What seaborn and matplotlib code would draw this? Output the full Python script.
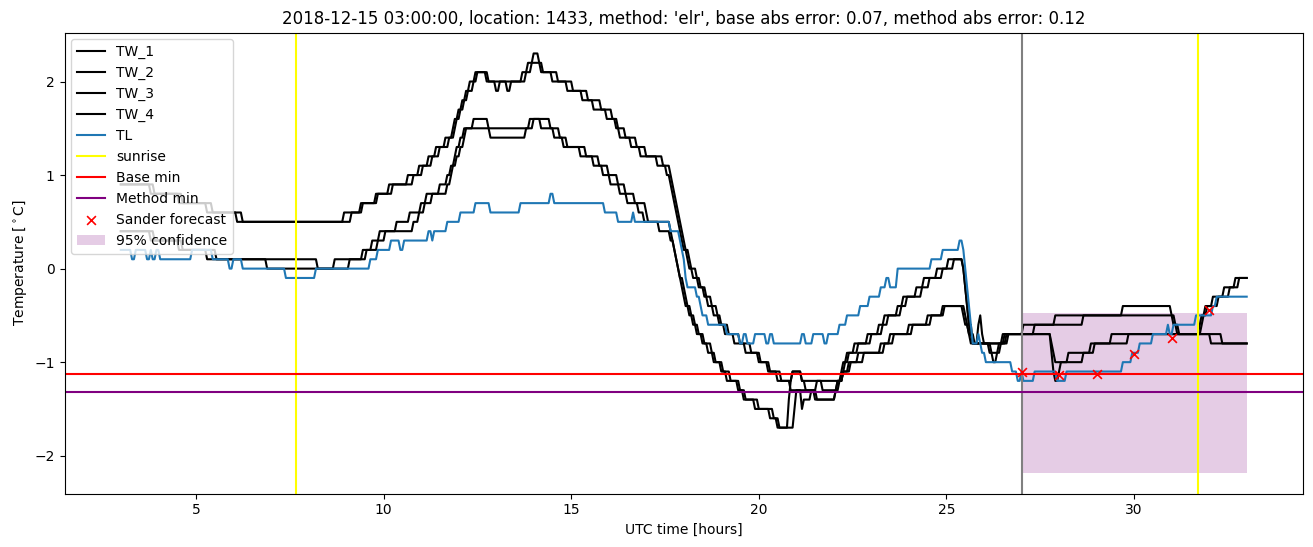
import numpy as np
import matplotlib
matplotlib.use("Agg")
import matplotlib.pyplot as plt
import seaborn as sns

# ---------------- data ----------------
# Each series: times [h UTC] at which the value changes, and the new values.
tw1_t = [3.0, 3.77, 4.52, 5.28, 6.08, 8.95, 9.36, 9.76, 10.11, 10.65, 10.91, 11.18, 11.37, 11.62,
         11.84, 11.89, 11.99, 12.09, 12.19, 12.29, 12.44, 12.74, 12.96, 13.06, 13.69, 13.84, 13.99,
         14.11, 14.22, 14.5, 14.9, 15.28, 15.57, 15.95, 16.16, 16.29, 16.56, 16.83, 17.28, 17.55,
         17.64, 17.69, 17.74, 17.79, 17.82, 17.87, 17.92, 17.99, 18.07, 18.15, 18.25, 18.37, 18.52,
         18.64, 18.79, 18.92, 19.07, 19.34, 19.64, 19.97, 20.22, 20.47, 20.86, 21.11, 22.18, 22.24,
         22.31, 22.53, 22.86, 23.16, 23.33, 23.7, 23.85, 24.2, 24.4, 24.75, 25.05, 25.42, 25.47,
         25.52, 25.57, 25.62, 25.7, 25.85, 25.9, 25.95, 26.0, 26.49, 27.04, 27.89, 29.68, 30.98,
         31.08, 31.18, 32.03]
tw1_v = [0.9, 0.8, 0.7, 0.6, 0.5, 0.6, 0.7, 0.8, 0.9, 1.0, 1.1, 1.2, 1.3, 1.4,
         1.5, 1.6, 1.7, 1.8, 1.9, 2.0, 2.1, 2.0, 1.9, 2.0, 2.1, 2.2, 2.3,
         2.2, 2.1, 2.0, 1.9, 1.8, 1.7, 1.6, 1.5, 1.4, 1.3, 1.2, 1.1, 1.0,
         0.9, 0.8, 0.7, 0.6, 0.5, 0.4, 0.3, 0.2, 0.1, 0.0, -0.1, -0.2, -0.3,
         -0.4, -0.5, -0.6, -0.7, -0.8, -0.9, -1.0, -1.1, -1.2, -1.1, -1.2, -1.1, -1.0,
         -0.9, -0.8, -0.7, -0.6, -0.5, -0.4, -0.3, -0.2, -0.1, 0.0, 0.1, 0.0, -0.2,
         -0.4, -0.6, -0.7, -0.8, -0.6, -0.5, -0.7, -0.8, -0.7, -0.6, -0.5, -0.4, -0.5,
         -0.6, -0.7, -0.8]

tw2_t = [3.0, 3.77, 4.52, 5.28, 6.86, 8.69, 9.42, 9.68, 9.9, 10.35, 10.7, 10.97, 11.15, 11.5,
         11.69, 11.79, 11.87, 11.94, 12.04, 12.14, 12.39, 12.79, 13.89, 14.44, 14.68, 14.9, 15.36,
         15.71, 15.98, 16.21, 16.43, 16.69, 16.96, 17.04, 17.35, 17.64, 17.72, 17.77, 17.82, 17.87,
         17.92, 17.99, 18.04, 18.12, 18.24, 18.34, 18.47, 18.64, 18.77, 18.97, 19.14, 19.42, 19.57,
         19.9, 20.27, 20.46, 20.76, 20.81, 20.86, 21.11, 21.21, 21.51, 22.01, 22.11, 22.21, 22.28,
         22.36, 22.63, 22.96, 23.26, 23.41, 23.8, 23.95, 24.35, 24.55, 24.9, 25.2, 25.44, 25.49,
         25.54, 25.6, 25.7, 26.54, 27.34, 28.61, 31.03, 31.13, 32.33]
tw2_v = [0.4, 0.3, 0.2, 0.1, 0.0, 0.1, 0.2, 0.3, 0.4, 0.5, 0.6, 0.7, 0.8, 0.9,
         1.0, 1.1, 1.2, 1.3, 1.4, 1.5, 1.6, 1.5, 1.6, 1.5, 1.4, 1.3, 1.2,
         1.1, 1.0, 0.9, 0.8, 0.7, 0.6, 0.5, 0.4, 0.3, 0.2, 0.1, 0.0, -0.1,
         -0.2, -0.3, -0.4, -0.5, -0.6, -0.7, -0.8, -0.9, -1.0, -1.1, -1.2, -1.3, -1.4,
         -1.5, -1.6, -1.7, -1.4, -1.2, -1.1, -1.2, -1.3, -1.4, -1.3, -1.2, -1.1, -1.0,
         -0.9, -0.8, -0.7, -0.6, -0.5, -0.4, -0.3, -0.2, -0.1, 0.0, 0.1, 0.0, -0.2,
         -0.4, -0.6, -0.8, -0.7, -0.6, -0.5, -0.6, -0.7, -0.8]

tw3_t = [3.0, 3.9, 4.62, 5.41, 6.22, 9.15, 9.45, 9.85, 10.25, 10.78, 11.03, 11.28, 11.46, 11.74,
         11.87, 11.94, 12.04, 12.14, 12.24, 12.36, 12.49, 12.79, 13.26, 13.36, 13.79, 13.91, 14.19,
         14.64, 15.03, 15.41, 15.76, 16.08, 16.25, 16.43, 16.75, 16.96, 17.44, 17.62, 17.67, 17.72,
         17.77, 17.82, 17.87, 17.92, 17.97, 18.04, 18.12, 18.2, 18.32, 18.44, 18.57, 18.72, 18.87,
         18.99, 19.17, 19.47, 19.77, 20.04, 20.3, 20.56, 20.81, 21.51, 21.66, 22.06, 22.21, 22.36,
         22.64, 23.21, 23.46, 24.0, 24.5, 24.9, 25.45, 25.5, 25.57, 25.65, 26.15, 26.25, 26.35,
         26.45, 26.59, 27.79, 27.84, 27.89, 27.99, 28.04, 28.24, 28.84, 29.39, 31.75, 31.8, 31.9,
         32.1, 32.4, 32.7]
tw3_v = [0.9, 0.8, 0.7, 0.6, 0.5, 0.6, 0.7, 0.8, 0.9, 1.0, 1.1, 1.2, 1.3, 1.4,
         1.5, 1.6, 1.7, 1.8, 1.9, 2.0, 2.1, 2.0, 1.9, 2.0, 2.1, 2.2, 2.1,
         2.0, 1.9, 1.8, 1.7, 1.6, 1.5, 1.4, 1.3, 1.2, 1.1, 1.0, 0.9, 0.8,
         0.7, 0.6, 0.5, 0.4, 0.3, 0.2, 0.1, 0.0, -0.1, -0.2, -0.3, -0.4, -0.5,
         -0.6, -0.7, -0.8, -0.9, -1.0, -1.1, -1.2, -1.3, -1.2, -1.3, -1.2, -1.1, -1.0,
         -0.9, -0.8, -0.7, -0.6, -0.5, -0.4, -0.5, -0.6, -0.7, -0.8, -0.9, -1.0, -0.9,
         -0.8, -0.7, -0.9, -1.1, -1.2, -1.1, -1.0, -0.9, -0.8, -0.7, -0.6, -0.5, -0.4,
         -0.3, -0.2, -0.1]

tw4_t = [3.0, 3.9, 4.62, 5.51, 8.21, 9.09, 9.55, 9.82, 10.03, 10.8, 10.95, 11.1, 11.29, 11.68,
         11.76, 11.84, 11.94, 12.02, 12.11, 12.19, 12.84, 13.79, 13.99, 14.19, 14.53, 14.78, 15.23,
         15.57, 15.83, 16.03, 16.29, 16.48, 16.78, 16.91, 17.64, 17.69, 17.74, 17.8, 17.85, 17.9,
         17.97, 18.02, 18.09, 18.17, 18.29, 18.4, 18.54, 18.72, 18.84, 19.04, 19.22, 19.49, 19.64,
         19.97, 20.37, 20.53, 20.93, 20.99, 21.11, 21.18, 21.36, 21.46, 22.01, 22.08, 22.24, 22.41,
         22.76, 23.31, 23.56, 24.1, 24.6, 24.95, 25.47, 25.52, 25.6, 25.72, 26.2, 26.4, 26.64,
         27.77, 27.82, 27.87, 28.61, 28.94, 29.83, 31.8, 31.85, 31.95, 32.25, 32.55, 32.8]
tw4_v = [0.4, 0.3, 0.2, 0.1, 0.0, 0.1, 0.2, 0.3, 0.4, 0.5, 0.6, 0.7, 0.8, 0.9,
         1.0, 1.1, 1.2, 1.3, 1.4, 1.5, 1.4, 1.5, 1.6, 1.5, 1.4, 1.3, 1.2,
         1.1, 1.0, 0.9, 0.8, 0.7, 0.6, 0.5, 0.4, 0.3, 0.2, 0.1, 0.0, -0.1,
         -0.2, -0.3, -0.4, -0.5, -0.6, -0.7, -0.8, -0.9, -1.0, -1.1, -1.2, -1.3, -1.4,
         -1.5, -1.6, -1.7, -1.5, -1.3, -1.5, -1.4, -1.3, -1.4, -1.3, -1.2, -1.1, -1.0,
         -0.9, -0.8, -0.7, -0.6, -0.5, -0.4, -0.5, -0.6, -0.7, -0.8, -0.9, -0.8, -0.7,
         -0.8, -0.9, -1.0, -0.9, -0.8, -0.7, -0.6, -0.5, -0.4, -0.3, -0.2, -0.1]

tl_t = [3.0, 3.27, 3.37, 3.69, 3.77, 3.85, 3.92, 4.02, 4.86, 5.41, 5.89, 5.96, 6.21, 7.36, 8.2,
        9.65, 9.85, 10.2, 10.45, 10.55, 11.2, 11.27, 11.35, 11.66, 12.04, 12.44, 12.84, 13.64,
        14.45, 14.53, 15.88, 16.21, 16.61, 16.69, 17.62, 17.87, 17.92, 17.97, 18.02, 18.05, 18.09,
        18.32, 18.42, 18.5, 18.62, 19.14, 19.47, 19.57, 19.7, 19.9, 20.2, 20.3, 20.37, 21.11,
        21.21, 21.41, 21.71, 21.81, 22.13, 22.33, 22.66, 22.94, 23.21, 23.39, 23.49, 23.7, 24.6,
        24.9, 25.35, 25.42, 25.47, 25.52, 25.57, 25.62, 25.7, 25.83, 25.9, 25.95, 26.05, 26.74,
        26.86, 26.96, 27.04, 27.31, 27.91, 28.19, 29.68, 29.93, 30.13, 30.48, 30.86, 30.95, 31.03,
        31.63, 32.06, 32.2]
tl_v = [0.2, 0.1, 0.2, 0.1, 0.2, 0.1, 0.2, 0.1, 0.2, 0.1, 0.0, 0.1, 0.0, -0.1, 0.0,
        0.1, 0.2, 0.3, 0.2, 0.3, 0.4, 0.3, 0.4, 0.5, 0.6, 0.7, 0.6, 0.7,
        0.8, 0.7, 0.6, 0.5, 0.6, 0.5, 0.4, 0.3, 0.2, 0.1, 0.0, -0.1, -0.2,
        -0.3, -0.4, -0.5, -0.6, -0.7, -0.8, -0.7, -0.8, -0.7, -0.8, -0.7, -0.8, -0.7,
        -0.8, -0.7, -0.8, -0.7, -0.6, -0.5, -0.4, -0.3, -0.2, -0.1, -0.2, 0.0, 0.1,
        0.2, 0.3, 0.2, 0.0, -0.2, -0.4, -0.6, -0.8, -0.7, -0.8, -0.9, -1.0, -1.1,
        -1.2, -1.1, -1.2, -1.1, -1.2, -1.1, -1.0, -0.9, -0.8, -0.7, -0.6, -0.7, -0.6,
        -0.5, -0.4, -0.3]

series_labels = ["TW_1", "TW_2", "TW_3", "TW_4", "TL"]

sunrise_times = [7.66, 31.69]
forecast_issue = 27.0
base_min = -1.13
method_min = -1.32
sander_t = [27, 28, 29, 30, 31, 32]
sander_v = [-1.11, -1.14, -1.13, -0.91, -0.74, -0.44]
conf_t = [27.0, 33.0]
conf_lo = [-2.18, -2.18]
conf_hi = [-0.47, -0.47]

title = ("2018-12-15 03:00:00, location: 1433, method: 'elr', "
         "base abs error: 0.07, method abs error: 0.12")

# 3-minute sampling grid of the observations
t_start, t_end, dt = 3.0, 33.0, 0.05
grid = np.round(t_start + dt * np.arange(int(round((t_end - t_start) / dt)) + 1), 4)


def hold(times, values):
    idx = np.searchsorted(np.asarray(times) - 1e-6, grid, side="right") - 1
    idx = np.clip(idx, 0, len(values) - 1)
    return np.asarray(values)[idx]


# ---------------- plot ----------------
fig, ax = plt.subplots(figsize=(13.13, 5.47), dpi=100)
fig.subplots_adjust(left=64.5 / 1313, right=1303 / 1313, top=1 - 32.5 / 547, bottom=1 - 493.5 / 547)

for (tt, vv), lab in zip([(tw1_t, tw1_v), (tw2_t, tw2_v), (tw3_t, tw3_v), (tw4_t, tw4_v)],
                         series_labels[:4]):
    sns.lineplot(x=grid, y=hold(tt, vv), color="black", label=lab, ax=ax,
                 estimator=None, linewidth=1.5)
sns.lineplot(x=grid, y=hold(tl_t, tl_v), color="#1f77b4", label="TL", ax=ax,
             estimator=None, linewidth=1.5)

ax.axvline(sunrise_times[0], color="yellow", label="sunrise")
ax.axvline(sunrise_times[1], color="yellow")
ax.axvline(forecast_issue, color="gray")
ax.axhline(base_min, color="red", label="Base min")
ax.axhline(method_min, color="purple", label="Method min")
sns.scatterplot(x=sander_t, y=sander_v, marker="x", color="red", s=40, linewidth=1.2,
                label="Sander forecast", ax=ax, zorder=3)
ax.fill_between(conf_t, conf_lo, conf_hi, color="purple", alpha=0.2, linewidth=0,
                label="95% confidence")

ax.set_title(title, fontsize=12)
ax.set_xlabel("UTC time [hours]")
ax.set_ylabel(r"Temperature [$^\circ$C]")
ax.legend(loc="upper left")

fig.savefig("out.png", dpi=100)
